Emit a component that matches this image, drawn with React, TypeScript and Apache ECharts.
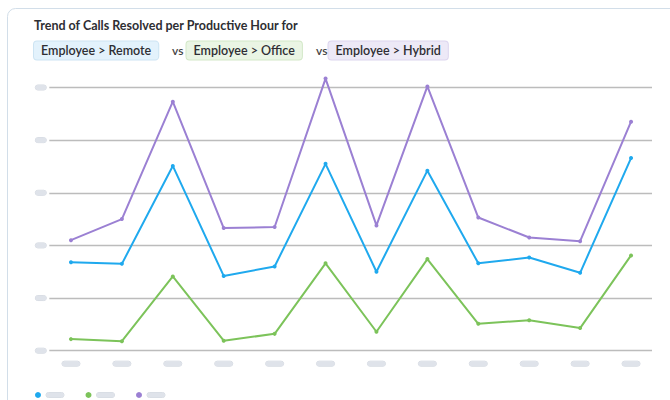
import React, { useEffect, useRef } from "react";
import * as echarts from "echarts";

const categories = ["P1", "P2", "P3", "P4", "P5", "P6", "P7", "P8", "P9", "P10", "P11", "P12"];
const seriesNames = ["Employee > Remote", "Employee > Office", "Employee > Hybrid"];
const remoteValues = [16.8, 16.5, 35.1, 14.2, 16.0, 35.5, 15.0, 34.2, 16.6, 17.7, 14.8, 36.6];
const officeValues = [2.2, 1.8, 14.1, 1.9, 3.2, 16.6, 3.6, 17.4, 5.1, 5.8, 4.3, 18.1];
const hybridValues = [21.0, 25.0, 47.3, 23.3, 23.5, 51.7, 23.8, 50.2, 25.3, 21.5, 20.8, 43.5];
const yTicks = [0, 10, 20, 30, 40, 50];
const titleText = "Trend of Calls Resolved per Productive Hour for";
const vsText = "vs";

const colors = ["#1fa9ee", "#7cc35a", "#9b80d3"];
const pillFills = ["#e3f2fc", "#eaf5e4", "#ede9f7"];
const pillBorders = ["#cde4f3", "#d3e8c8", "#dcd5ee"];
const pillX = [34, 186.5, 328.5];
const vsX = [167, 311];

export default function App() {
  const ref = useRef<HTMLDivElement>(null);
  useEffect(() => {
    if (!ref.current) return;
    const chart = echarts.init(ref.current, null, { renderer: "svg" });
    const placeholder = {
      p: { width: 18, height: 5, lineHeight: 5, fontSize: 4, backgroundColor: "#dfe3ea", borderRadius: 3, borderColor: "#d3d8e0", borderWidth: 0.5 },
    };
    const yPlaceholder = {
      p: { width: 11, height: 5, lineHeight: 5, fontSize: 4, backgroundColor: "#dfe3ea", borderRadius: 3, borderColor: "#d3d8e0", borderWidth: 0.5 },
    };
    const series = [remoteValues, officeValues, hybridValues].map((vals, i) => ({
      name: seriesNames[i],
      type: "line",
      xAxisIndex: 1,
      yAxisIndex: 1,
      data: vals,
      symbol: "circle",
      symbolSize: 4,
      showSymbol: true,
      clip: false,
      lineStyle: { color: colors[i], width: 2 },
      itemStyle: { color: colors[i] },
      z: 3,
    }));
    const graphicEls: any[] = [
      {
        type: "rect",
        shape: { x: 7.5, y: 8.5, width: 720, height: 430, r: 8 },
        style: { fill: "none", stroke: "#d2dee9", lineWidth: 1 },
        silent: true,
      },
      {
        type: "text",
        x: 34,
        y: 25.5,
        style: {
          text: titleText,
          fontFamily: "Lato",
          fontWeight: "bold",
          fontSize: 12.5,
          fill: "#2e2e33",
          verticalAlign: "middle",
        },
      },
    ];
    seriesNames.forEach((n, i) => {
      graphicEls.push({
        type: "text",
        x: pillX[i],
        y: 50.5,
        style: {
          text: n,
          fontFamily: "Lato",
          fontWeight: 600,
          fontSize: 12.5,
          lineHeight: 14,
          fill: "#2e2e33",
          verticalAlign: "middle",
          backgroundColor: pillFills[i],
          borderColor: pillBorders[i],
          borderWidth: 1,
          borderRadius: 3,
          padding: [2, 7, 2, 7],
        },
      });
    });
    vsX.forEach((x) => {
      graphicEls.push({
        type: "text",
        x: x + 5,
        y: 50.5,
        style: { text: vsText, fontFamily: "Lato", fontWeight: 600, fontSize: 12, fill: "#444", verticalAlign: "middle" },
      });
    });
    chart.setOption({
      animation: false,
      backgroundColor: "#ffffff",
      graphic: graphicEls,
      grid: [
        { left: 49.3, right: 18, top: 87.5, bottom: 49.3 },
        { left: 45.5, right: 13.5, top: 87.5, bottom: 49.3 },
      ],
      legend: {
        left: 35,
        top: 392,
        padding: 0,
        itemWidth: 6,
        itemHeight: 6,
        itemGap: 21,
        icon: "circle",
        data: seriesNames,
        formatter: () => "{p| }",
        textStyle: { rich: placeholder },
      },
      xAxis: [
        { type: "category", gridIndex: 0, data: categories, show: false },
        {
          type: "category",
          gridIndex: 1,
          data: categories,
          boundaryGap: true,
          axisLine: { show: false },
          axisTick: { show: false },
          axisLabel: { margin: 10.5, formatter: () => "{p| }", rich: placeholder },
        },
      ],
      yAxis: [
        {
          type: "value",
          gridIndex: 0,
          min: yTicks[0],
          max: yTicks[yTicks.length - 1],
          interval: 10,
          axisLine: { show: false },
          axisTick: { show: false },
          splitLine: { lineStyle: { color: "#bcbcbc", width: 1.3 } },
          axisLabel: { margin: 3, formatter: () => "{p| }", rich: yPlaceholder },
        },
        {
          type: "value",
          gridIndex: 1,
          min: yTicks[0],
          max: yTicks[yTicks.length - 1],
          interval: 10,
          show: false,
          splitLine: { show: false },
        },
      ],
      series,
    });
    return () => chart.dispose();
  }, []);
  return <div ref={ref} style={{ position: "fixed", left: 0, top: 0, width: 670, height: 400 }} />;
}
